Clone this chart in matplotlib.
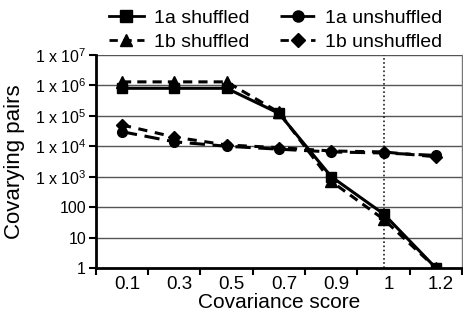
import numpy as np
import matplotlib.pyplot as plt
from matplotlib.lines import Line2D

plt.rcParams['font.family'] = ['Liberation Sans', 'DejaVu Sans']
plt.rcParams['mathtext.fontset'] = 'custom'
plt.rcParams['mathtext.rm'] = 'Liberation Sans'
plt.rcParams['mathtext.it'] = 'Liberation Sans'
plt.rcParams['mathtext.default'] = 'rm'

# ---------- data ----------
scores = ["0.1", "0.3", "0.5", "0.7", "0.9", "1", "1.2"]
a_shuffled = [8e5, 8e5, 8e5, 1.2e5, 1000, 60, 1]
b_shuffled = [1.3e6, 1.3e6, 1.3e6, 1.3e5, 700, 40, 1]
a_unshuffled = [3e4, 1.4e4, 1e4, 8e3, 6.5e3, 6e3, 5e3]
b_unshuffled = [5e4, 2e4, 1.1e4, 9e3, 7e3, 6.5e3, 4.5e3]
ytick_vals = [1, 10, 100, 1e3, 1e4, 1e5, 1e6, 1e7]
ytick_labels = ["1", "10", "100", r"1 x 10$^{3}$", r"1 x 10$^{4}$",
                r"1 x 10$^{5}$", r"1 x 10$^{6}$", r"1 x 10$^{7}$"]

fig = plt.figure(figsize=(4.63, 3.21), dpi=100)
ax = fig.add_axes([0.207, 0.165, 0.791, 0.664])

x = np.arange(len(scores))
ax.set_yscale("log")
ax.set_ylim(1, 1e7)
ax.set_xlim(-0.5, len(scores) - 0.5)

for v in ytick_vals[1:]:
    ax.axhline(v, color="#555555", lw=1.0, zorder=0)
ax.axvline(5, color="#222222", lw=1.2, ls=(0, (1, 1.5)), zorder=1)

ax.plot(x, a_unshuffled, color="black", lw=2.2, ls=(0, (5, 2.5)),
        marker="o", ms=7, zorder=3)
ax.plot(x, b_unshuffled, color="black", lw=2.2, ls=(0, (3, 2.5)),
        marker="D", ms=6, zorder=3)
ax.plot(x, b_shuffled, color="black", lw=2.2, ls=(0, (3, 2)),
        marker="^", ms=8, zorder=3)
ax.plot(x, a_shuffled, color="black", lw=2.2, ls="-",
        marker="s", ms=7, zorder=4)

ax.set_yticks(ytick_vals)
ax.set_yticklabels(ytick_labels)
ax.minorticks_off()
ax.set_xticks(np.arange(len(scores) + 1) - 0.5)
ax.set_xticklabels([])
ax.set_xticks(x + 0.1, minor=True)
ax.set_xticklabels(scores, minor=True)
ax.tick_params(axis="x", which="minor", length=0, labelsize=13.5, pad=6)
ax.tick_params(axis="x", which="major", length=5, width=1.5)
ax.tick_params(axis="y", length=5, width=1.5, labelsize=11.5, pad=2)

ax.spines["top"].set_visible(False)
ax.spines["right"].set_color("#777777")
ax.spines["right"].set_linewidth(1.0)
ax.spines["left"].set_linewidth(2)
ax.spines["bottom"].set_linewidth(2)

ax.set_xlabel("Covariance score", fontsize=15, labelpad=0)
ax.set_ylabel("Covarying pairs", fontsize=16, labelpad=7)

handles = [
    Line2D([], [], color="black", lw=2, ls="-", marker="s", ms=8),
    Line2D([], [], color="black", lw=2, ls=(0, (3, 2)), marker="^", ms=9),
    Line2D([], [], color="black", lw=2, ls=(0, (5, 2.5)), marker="o", ms=8),
    Line2D([], [], color="black", lw=2, ls=(0, (3, 2.5)), marker="D", ms=7),
]
labels = ["1a shuffled", "1b shuffled", "1a unshuffled", "1b unshuffled"]
fig.legend(handles, labels, ncol=2, loc="upper center",
           bbox_to_anchor=(0.595, 1.025), frameon=False, fontsize=14,
           handlelength=1.8, columnspacing=1.6, labelspacing=0.3,
           handletextpad=0.5)

fig.savefig("out.png", dpi=100)
